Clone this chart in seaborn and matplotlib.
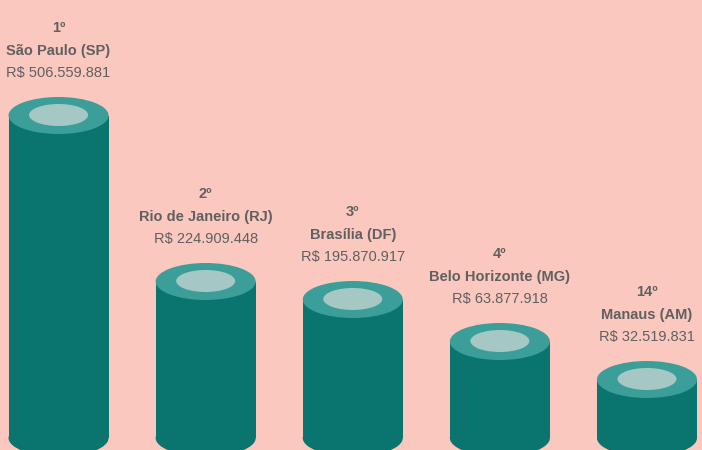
import matplotlib
matplotlib.use("Agg")
import matplotlib.pyplot as plt
from matplotlib.patches import Ellipse
import seaborn as sns
import pandas as pd

# data
ranks = ["1º", "2º", "3º", "4º", "14º"]
cities = ["São Paulo (SP)", "Rio de Janeiro (RJ)", "Brasília (DF)",
          "Belo Horizonte (MG)", "Manaus (AM)"]
values = ["R$ 506.559.881", "R$ 224.909.448", "R$ 195.870.917",
          "R$ 63.877.918", "R$ 32.519.831"]
# drawn cylinder heights (stylised, not proportional to the values)
bar_heights = [322.5, 156.5, 138.5, 96.5, 58.5]

BG = "#FBC8BF"
BODY = "#0A756F"
RING = "#3B9E99"
INNER = "#A5C8C5"
TXT = "#606060"

sns.set_theme(style="white")
plt.rcParams["font.family"] = ["Liberation Sans", "DejaVu Sans"]

df = pd.DataFrame({"city": cities, "height": bar_heights})

fig = plt.figure(figsize=(7.02, 4.5), dpi=100, facecolor=BG)
ax = fig.add_axes([0, 0, 1, 1])
ax.set_facecolor(BG)

bw = 0.68
sns.barplot(data=df, x="city", y="height", color=BODY, width=bw,
            saturation=1, ax=ax, edgecolor="none")

for i, h in enumerate(bar_heights):
    # rounded bottom
    ax.add_patch(Ellipse((i, 0), bw, 37, facecolor=BODY, edgecolor="none", zorder=2))
    # top face
    ax.add_patch(Ellipse((i, h), bw, 37, facecolor=RING, edgecolor="none", zorder=3))
    ax.add_patch(Ellipse((i, h + 0.5), bw * 0.59, 22, facecolor=INNER, edgecolor="none", zorder=4))
    ax.text(i, h + 87, ranks[i], ha="center", va="center", fontsize=10.5,
            fontweight="bold", color=TXT)
    ax.text(i, h + 64.5, cities[i], ha="center", va="center", fontsize=10.5,
            fontweight="bold", color=TXT)
    ax.text(i, h + 42, values[i], ha="center", va="center", fontsize=10.5,
            color=TXT)

ax.set_xlim(-0.398, 4.374)
ax.set_ylim(-12, 438)
ax.axis("off")

fig.savefig("out.png", dpi=100, facecolor=BG)
